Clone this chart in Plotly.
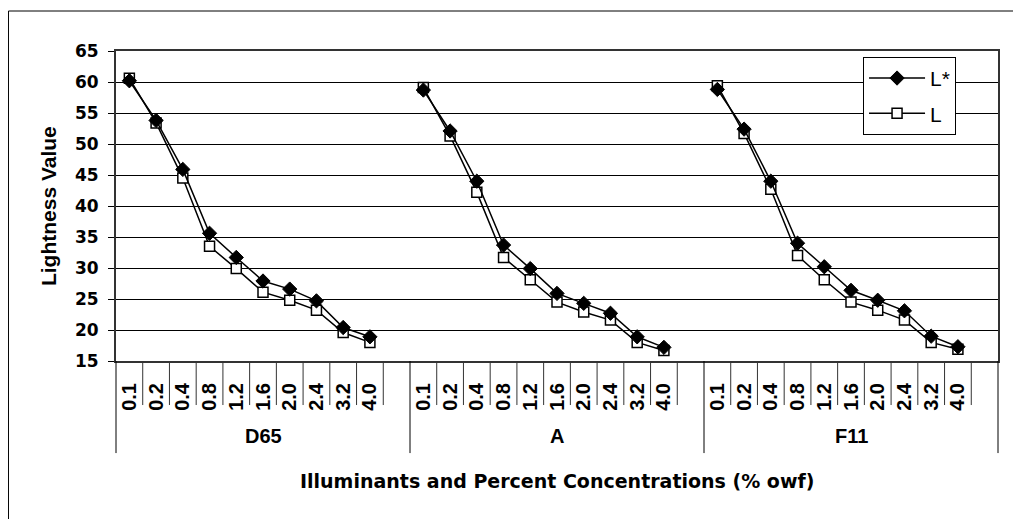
import plotly.graph_objects as go

illuminants = ["D65", "A", "F11"]
concentrations = ["0.1", "0.2", "0.4", "0.8", "1.2", "1.6", "2.0", "2.4", "3.2", "4.0"]

l_star = {
    "D65": [60.2, 53.8, 45.9, 35.6, 31.7, 27.9, 26.6, 24.7, 20.4, 18.9],
    "A":   [58.7, 52.1, 44.0, 33.7, 29.9, 25.9, 24.3, 22.7, 18.9, 17.2],
    "F11": [58.8, 52.4, 44.0, 34.0, 30.2, 26.4, 24.8, 23.1, 19.0, 17.3],
}
l_plain = {
    "D65": [60.6, 53.4, 44.5, 33.5, 29.9, 26.1, 24.8, 23.2, 19.6, 18.0],
    "A":   [59.1, 51.3, 42.2, 31.7, 28.1, 24.5, 22.9, 21.6, 18.0, 16.7],
    "F11": [59.4, 51.7, 42.7, 32.0, 28.1, 24.5, 23.2, 21.6, 18.0, 16.9],
}

NARROW = "Liberation Sans, Arial, sans-serif"
WIDE = "DejaVu Sans, Verdana, sans-serif"
slots = len(concentrations) + 1  # one blank slot after each group

xs, ys_star, ys_plain, tickvals, ticktext = [], [], [], [], []
for g, ill in enumerate(illuminants):
    for i, c in enumerate(concentrations):
        pos = g * slots + i
        xs.append(pos)
        tickvals.append(pos)
        ticktext.append(c)
        ys_star.append(l_star[ill][i])
        ys_plain.append(l_plain[ill][i])
    xs.append(None)
    ys_star.append(None)
    ys_plain.append(None)

n_slots = slots * len(illuminants)

fig = go.Figure()
fig.add_trace(go.Scatter(
    x=xs, y=ys_plain, name="L", mode="lines+markers", legendrank=2,
    line=dict(color="black", width=1.5),
    marker=dict(symbol="square", size=10, color="white",
                line=dict(color="black", width=1.5)),
    connectgaps=False, legendgroup="b",
))
fig.add_trace(go.Scatter(
    x=xs, y=ys_star, name="L*", mode="lines+markers", legendrank=1,
    line=dict(color="black", width=1.5),
    marker=dict(symbol="diamond", size=11, color="black",
                line=dict(color="black", width=1)),
    connectgaps=False, legendgroup="a",
))

shapes = []
for k in range(n_slots - 1):
    xv = k + 0.5
    major = (k + 1) % slots == 0
    shapes.append(dict(type="line", xref="x", yref="paper", x0=xv, x1=xv,
                       y0=0, y1=-0.297 if major else -0.142,
                       line=dict(color="black" if major else "#333", width=1)))
for xp in (0, 1):
    shapes.append(dict(type="line", xref="paper", yref="paper", x0=xp, x1=xp,
                       y0=0, y1=-0.297, line=dict(color="black", width=1)))
shapes.append(dict(type="line", xref="paper", yref="paper", x0=-0.1219, x1=1.2,
                   y0=1.129, y1=1.129, line=dict(color="black", width=1)))
shapes.append(dict(type="line", xref="paper", yref="paper", x0=-0.1219, x1=-0.1219,
                   y0=1.129, y1=-0.7, line=dict(color="black", width=1)))

annotations = []
for g, ill in enumerate(illuminants):
    annotations.append(dict(text=ill, x=g * slots + (slots - 1) / 2, xref="x",
                            y=-0.242, yref="paper", showarrow=False,
                            xanchor="center", yanchor="middle",
                            font=dict(family=NARROW, size=20, color="black", weight="bold")))
annotations.append(dict(text="Illuminants and Percent Concentrations (% owf)",
                        x=0.5, xref="paper", y=-0.387, yref="paper", showarrow=False,
                        xanchor="center", yanchor="middle",
                        font=dict(family=WIDE, size=19, color="black", weight="bold")))
annotations.append(dict(text="Lightness Value", x=-0.077, xref="paper", y=0.5,
                        yref="paper", showarrow=False, textangle=-90,
                        xanchor="center", yanchor="middle",
                        font=dict(family=NARROW, size=21, color="black", weight="bold")))

fig.update_layout(
    width=1021, height=519,
    margin=dict(l=108, r=31, t=43, b=166),
    paper_bgcolor="white", plot_bgcolor="white",
    showlegend=True,
    legend=dict(x=0.847, y=0.981, xanchor="left", yanchor="top",
                bgcolor="white", bordercolor="black", borderwidth=1,
                font=dict(family=NARROW, size=21, color="black"),
                tracegroupgap=5, itemwidth=56),
    shapes=shapes, annotations=annotations,
    xaxis=dict(range=[-0.5, n_slots - 0.5], tickvals=tickvals, ticktext=ticktext,
               tickangle=-90, ticks="", showgrid=False, zeroline=False,
               showline=True, linecolor="#333", linewidth=2, mirror=True,
               ticklabelstandoff=12,
               tickfont=dict(family=NARROW, size=20, color="black", weight="bold")),
    yaxis=dict(range=[15, 65], dtick=5, tick0=15, showgrid=True, gridcolor="black",
               gridwidth=1, zeroline=False, ticks="outside", ticklen=6,
               tickcolor="black", ticklabelstandoff=6,
               showline=True, linecolor="#333", linewidth=2, mirror=True,
               tickfont=dict(family=WIDE, size=17, color="black", weight="bold")),
)

fig.write_html("out.html")
